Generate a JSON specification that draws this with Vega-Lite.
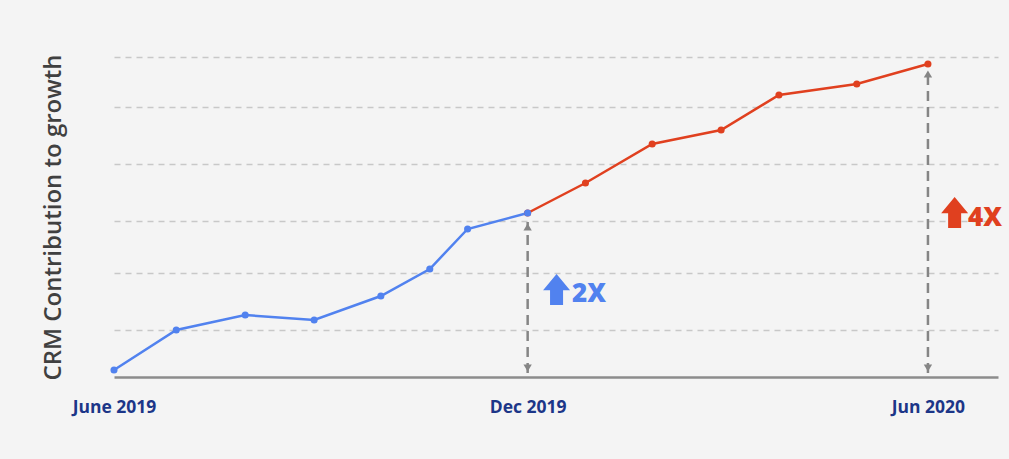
{
  "$schema": "https://vega.github.io/schema/vega-lite/v6.json",
  "width": 884,
  "height": 320,
  "autosize": {"type": "none"},
  "padding": {"left": 114, "top": 57, "right": 11, "bottom": 82},
  "background": "#f4f4f4",
  "config": {"view": {"stroke": null}, "font": "Open Sans"},
  "datasets": {
    "growth": [
      {"day": 186, "value": 164, "series": "after"},
      {"day": 212, "value": 194, "series": "after"},
      {"day": 242, "value": 233, "series": "after"},
      {"day": 273, "value": 247, "series": "after"},
      {"day": 299, "value": 282, "series": "after"},
      {"day": 334, "value": 293, "series": "after"},
      {"day": 366, "value": 313, "series": "after"},
      {"day": 0, "value": 7, "series": "before"},
      {"day": 28, "value": 47, "series": "before"},
      {"day": 59, "value": 62, "series": "before"},
      {"day": 90, "value": 57, "series": "before"},
      {"day": 120, "value": 81, "series": "before"},
      {"day": 142, "value": 108, "series": "before"},
      {"day": 159, "value": 148, "series": "before"},
      {"day": 186, "value": 164, "series": "before"}
    ],
    "arrows": [
      {"day": 186, "value": 4, "value2": 155},
      {"day": 366, "value": 4, "value2": 308}
    ],
    "notes": [
      {"label": "2X", "series": "before", "aday": 199, "avalue": 87.5, "tday": 206, "tvalue": 83.5},
      {"label": "4X", "series": "after", "aday": 378, "avalue": 164.5, "tday": 384, "tvalue": 159.5}
    ]
  },
  "encoding": {
    "x": {
      "field": "day",
      "type": "quantitative",
      "scale": {"domain": [0, 397.5], "nice": false, "zero": false},
      "axis": {
        "values": [0, 186, 366],
        "labelExpr": "datum.value == 0 ? 'June 2019' : datum.value == 186 ? 'Dec 2019' : 'Jun 2020'",
        "labelColor": "#1c3688",
        "labelFontSize": 17.5,
        "labelFontWeight": 700,
        "labelPadding": 21,
        "labelFlush": false,
        "labelOverlap": false,
        "ticks": false,
        "grid": false,
        "domainColor": "#8c8c8c",
        "domainWidth": 2.5,
        "title": null
      }
    },
    "y": {
      "field": "value",
      "type": "quantitative",
      "scale": {"domain": [0, 320], "nice": false},
      "axis": {
        "values": [47, 104, 156, 213, 270, 320],
        "labels": false,
        "ticks": false,
        "domain": false,
        "gridColor": "#c8c8c8",
        "gridWidth": 1.5,
        "gridDash": [6, 5],
        "title": "CRM Contribution to growth",
        "titleFontSize": 24,
        "titleFontWeight": 600,
        "titleColor": "#404040",
        "titleX": -61,
        "titleY": 160,
        "titleAlign": "center",
        "titleBaseline": "middle"
      }
    }
  },
  "layer": [
    {
      "data": {"name": "arrows"},
      "mark": {"type": "rule", "color": "#858585", "strokeWidth": 2.5, "strokeDash": [10, 6]},
      "encoding": {"y2": {"field": "value2"}}
    },
    {
      "data": {"name": "arrows"},
      "mark": {"type": "point", "shape": "triangle-up", "filled": true, "color": "#858585", "opacity": 1, "size": 70, "yOffset": 5},
      "encoding": {"y": {"field": "value2", "type": "quantitative"}}
    },
    {
      "data": {"name": "arrows"},
      "mark": {"type": "point", "shape": "triangle-down", "filled": true, "color": "#858585", "opacity": 1, "size": 70, "yOffset": -5},
      "encoding": {}
    },
    {
      "data": {"name": "growth"},
      "mark": {"type": "line", "strokeWidth": 2.5},
      "encoding": {
        "color": {"field": "series", "type": "nominal", "scale": {"domain": ["before", "after"], "range": ["#5182ef", "#e0401f"]}, "legend": null}
      }
    },
    {
      "data": {"name": "growth"},
      "mark": {"type": "point", "filled": true, "opacity": 1, "size": 50},
      "encoding": {
        "color": {"field": "series", "type": "nominal", "legend": null}
      }
    },
    {
      "data": {"name": "notes"},
      "mark": {"type": "point", "filled": true, "opacity": 1, "size": 961, "shape": "M0,-1L0.87,0.05L0.42,0.05L0.42,1L-0.42,1L-0.42,0.05L-0.87,0.05Z"},
      "encoding": {
        "x": {"field": "aday", "type": "quantitative"},
        "y": {"field": "avalue", "type": "quantitative"},
        "color": {"field": "series", "type": "nominal", "legend": null}
      }
    },
    {
      "data": {"name": "notes"},
      "mark": {"type": "text", "align": "left", "baseline": "middle", "fontSize": 26, "fontWeight": 800},
      "encoding": {
        "x": {"field": "tday", "type": "quantitative"},
        "y": {"field": "tvalue", "type": "quantitative"},
        "text": {"field": "label"},
        "color": {"field": "series", "type": "nominal", "legend": null}
      }
    }
  ]
}
